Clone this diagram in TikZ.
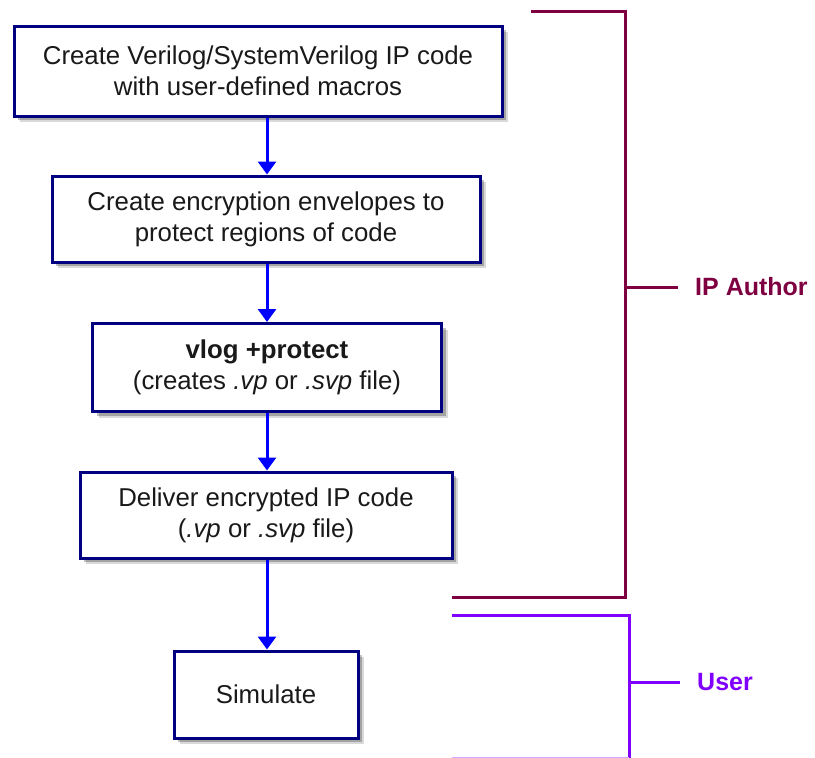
\documentclass[tikz,border=0pt]{standalone}
\usepackage{fontspec}
\setmainfont{Liberation Sans}
\usetikzlibrary{arrows.meta,shadows}
\definecolor{boxblue}{HTML}{000080}
\definecolor{arrblue}{HTML}{0000FF}
\definecolor{authorc}{HTML}{7F0040}
\definecolor{userc}{HTML}{8000FF}
\begin{document}
\begin{tikzpicture}[x=1pt,y=-1pt,
  stepbox/.style={draw=boxblue, line width=3pt, fill=white, align=center,
    font=\fontsize{25.8}{31}\selectfont, text=black!90, inner sep=0pt,
    drop shadow={shadow xshift=6pt, shadow yshift=-6pt, opacity=0.15, fill=black},
    drop shadow={shadow xshift=4pt, shadow yshift=-4pt, opacity=0.25, fill=black}},
  flow/.style={draw=arrblue, line width=3pt, -{Triangle[width=18pt,length=13pt]}},
  authorline/.style={draw=authorc, line width=3pt},
  userline/.style={draw=userc, line width=3pt},
  lab/.style={font=\fontsize{25}{30}\selectfont\bfseries, anchor=west, inner sep=0pt}]
\useasboundingbox (0,0) rectangle (815,758);
\node[stepbox, minimum width=488pt, minimum height=90pt] (b1) at (258,71)
  {Create Verilog/SystemVerilog IP code\\with user-defined macros};
\node[stepbox, minimum width=428pt, minimum height=86pt] (b2) at (266,219)
  {Create encryption envelopes to\\protect regions of code};
\node[stepbox, minimum width=349pt, minimum height=88pt] (b3) at (267,367.5)
  {\textbf{vlog +protect}\\(creates \textit{.vp} or \textit{.svp} file)};
\node[stepbox, minimum width=372pt, minimum height=86pt] (b4) at (266,515)
  {Deliver encrypted IP code\\(\textit{.vp} or \textit{.svp} file)};
\node[stepbox, minimum width=184pt, minimum height=87pt] (b5) at (266,694.5)
  {Simulate};
\foreach \a/\b in {b1/b2,b2/b3,b3/b4,b4/b5}
  \draw[flow] (\a.south -| 267,0) -- (\b.north -| 267,0);
% IP Author bracket
\coordinate (a1) at (531,11);
\coordinate (a2) at (625,11);
\coordinate (a3) at (625,597);
\coordinate (a4) at (452,597);
\coordinate (at0) at (625,287);
\coordinate (at1) at (678,287);
\draw[authorline] (a1) -- (a2) -- (a3) -- (a4);
\draw[authorline] (at0) -- (at1);
\node[lab, text=authorc] (la) at (695,287) {IP Author};
% User bracket
\coordinate (u1) at (452,615);
\coordinate (u2) at (629,615);
\coordinate (u3) at (629,758);
\coordinate (u4) at (452,758);
\coordinate (ut0) at (629,682);
\coordinate (ut1) at (680,682);
\draw[userline] (u1) -- (u2) -- (u3);
\draw[userline, draw=userc!35] (u3) -- (u4);
\draw[userline] (ut0) -- (ut1);
\node[lab, text=userc] (lu) at (697,682) {User};
\end{tikzpicture}
\end{document}
